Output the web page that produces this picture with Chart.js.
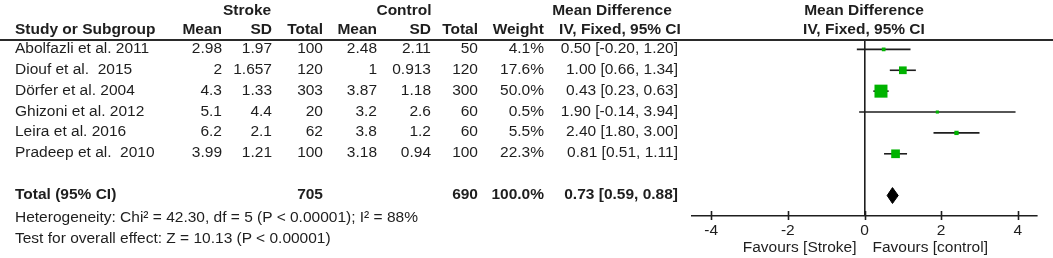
<!DOCTYPE html>
<html><head><meta charset="utf-8">
<script src="https://cdn.jsdelivr.net/npm/chart.js@4.4.1/dist/chart.umd.min.js"></script>
<style>
html,body{margin:0;padding:0;background:#fff;}
#wrap{position:relative;width:1053px;height:258px;overflow:hidden;font-family:"Liberation Sans",Arial,sans-serif;font-size:15.5px;color:#1e1e1e;}
#c{position:absolute;left:0;top:0;}
.t{position:absolute;white-space:pre;line-height:16px;height:16px;}
.b{font-weight:bold;}
#rule{position:absolute;left:0;top:39px;width:1053px;height:2px;background:#2a2a2a;}
</style></head><body>
<div id="wrap"><canvas id="c" width="1053" height="258"></canvas><div id="rule"></div></div>
<script>
// ---- data ----
const studies = ['Abolfazli et al. 2011','Diouf et al.  2015','Dörfer et al. 2004','Ghizoni et al. 2012','Leira et al. 2016','Pradeep et al.  2010'];
const strokeMean = [2.98, 2, 4.3, 5.1, 6.2, 3.99];
const strokeSD = [1.97, 1.657, 1.33, 4.4, 2.1, 1.21];
const strokeTotal = [100, 120, 303, 20, 62, 100];
const controlMean = [2.48, 1, 3.87, 3.2, 3.8, 3.18];
const controlSD = [2.11, 0.913, 1.18, 2.6, 1.2, 0.94];
const controlTotal = [50, 120, 300, 60, 60, 100];
const weights = [4.1, 17.6, 50.0, 0.5, 5.5, 22.3];
const md = [0.50, 1.00, 0.43, 1.90, 2.40, 0.81];
const ciLow = [-0.20, 0.66, 0.23, -0.14, 1.80, 0.51];
const ciHigh = [1.20, 1.34, 0.63, 3.94, 3.00, 1.11];
const totalStroke = 705;
const totalControl = 690;
const totalWeight = 100.0;
const totalMD = 0.73;
const totalLow = 0.59;
const totalHigh = 0.88;
const xTicks = [-4, -2, 0, 2, 4];
const heterogeneity = 'Heterogeneity: Chi² = 42.30, df = 5 (P < 0.00001); I² = 88%';
const overallTest = 'Test for overall effect: Z = 10.13 (P < 0.00001)';
const favourLeft = 'Favours [Stroke]';
const favourRight = 'Favours [control]';

// ---- chart ----
const rowOf = i => i + 1;
const totalRow = studies.length + 2;
const GREEN = '#00b300';
const INK = '#1e1e1e';

const datasets = [];
datasets.push({
  type: 'scatter', label: 'MD', order: 0,
  data: md.map((v, i) => ({x: v, y: rowOf(i)})),
  pointStyle: 'rect',
  pointRadius: weights.map(w => Math.max(2.2, 13 * Math.sqrt(w / 50) / Math.SQRT2)),
  pointBackgroundColor: GREEN, pointBorderWidth: 0, pointBorderColor: GREEN
});
studies.forEach((s, i) => {
  datasets.push({
    type: 'line', label: s, order: 2,
    data: [{x: ciLow[i], y: rowOf(i)}, {x: ciHigh[i], y: rowOf(i)}],
    borderColor: INK, borderWidth: 1.6, pointRadius: 0, fill: false, tension: 0
  });
});
const dh = 0.38;
datasets.push({
  type: 'line', label: 'Total', order: 1,
  data: [{x: totalLow, y: totalRow}, {x: totalMD, y: totalRow - dh}, {x: totalHigh, y: totalRow}, {x: totalMD, y: totalRow + dh}, {x: totalLow, y: totalRow}],
  borderColor: '#000', borderWidth: 1, backgroundColor: '#000', pointRadius: 0, fill: 'shape', tension: 0
});

const crossTicks = {
  id: 'crossTicks',
  afterDraw(chart) {
    const ctx = chart.ctx, xs = chart.scales.x, b = chart.chartArea.bottom;
    ctx.save();
    ctx.strokeStyle = INK; ctx.lineWidth = 1.6;
    xTicks.forEach(v => {
      const px = Math.round(xs.getPixelForValue(v)) + 0.5;
      ctx.beginPath(); ctx.moveTo(px, b - 5); ctx.lineTo(px, b + 4); ctx.stroke();
    });
    ctx.restore();
  }
};

const chart = new Chart(document.getElementById('c'), {
  type: 'scatter',
  data: {datasets},
  options: {
    responsive: false, animation: false, devicePixelRatio: 1,
    layout: {padding: {left: 692, right: 16, top: 40, bottom: 0}},
    plugins: {legend: {display: false}, tooltip: {enabled: false}},
    scales: {
      x: {
        type: 'linear', min: -4.5, max: 4.5,
        afterBuildTicks: s => { s.ticks = xTicks.map(v => ({value: v})); },
        afterFit: s => { s.height = 42; },
        border: {display: true, color: INK, width: 1.6},
        grid: {drawTicks: false, drawOnChartArea: true,
               color: c => (c.tick && c.tick.value === 0) ? INK : 'rgba(0,0,0,0)', lineWidth: 1.6},
        ticks: {padding: 5, color: INK, font: {family: '"Liberation Sans", Arial, sans-serif', size: 15.5},
                callback: v => String(v), maxRotation: 0, autoSkip: false}
      },
      y: {type: 'linear', display: false, reverse: true, min: 0.55, max: 8.98}
    }
  },
  plugins: [crossTicks]
});

// ---- table text (HTML) ----
const wrap = document.getElementById('wrap');
function put(text, x, yc, align, bold) {
  const d = document.createElement('div');
  d.className = 't' + (bold ? ' b' : '');
  d.textContent = text;
  d.style.top = (yc - 8) + 'px';
  if (align === 'left') d.style.left = x + 'px';
  else if (align === 'right') d.style.right = (1053 - x) + 'px';
  else { d.style.left = (x - 200) + 'px'; d.style.width = '400px'; d.style.textAlign = 'center'; }
  wrap.appendChild(d);
}
const ys = chart.scales.y;
const cols = {sMean: 222, sSD: 272, sTot: 323, cMean: 377, cSD: 431, cTot: 478, w: 544, ci: 678};
// headers
put('Stroke', 247, 10, 'center', true);
put('Control', 404, 10, 'center', true);
put('Mean Difference', 612, 10, 'center', true);
put('IV, Fixed, 95% CI', 620, 29, 'center', true);
put('Mean Difference', 864, 10, 'center', true);
put('IV, Fixed, 95% CI', 864, 29, 'center', true);
put('Study or Subgroup', 15, 29, 'left', true);
put('Mean', cols.sMean, 29, 'right', true);
put('SD', cols.sSD, 29, 'right', true);
put('Total', cols.sTot, 29, 'right', true);
put('Mean', cols.cMean, 29, 'right', true);
put('SD', cols.cSD, 29, 'right', true);
put('Total', cols.cTot, 29, 'right', true);
put('Weight', cols.w, 29, 'right', true);
const f2 = v => v.toFixed(2);
studies.forEach((s, i) => {
  const y = ys.getPixelForValue(rowOf(i)) - 1.5;
  put(s, 15, y, 'left');
  put(String(strokeMean[i]), cols.sMean, y, 'right');
  put(String(strokeSD[i]), cols.sSD, y, 'right');
  put(String(strokeTotal[i]), cols.sTot, y, 'right');
  put(String(controlMean[i]), cols.cMean, y, 'right');
  put(String(controlSD[i]), cols.cSD, y, 'right');
  put(String(controlTotal[i]), cols.cTot, y, 'right');
  put(weights[i].toFixed(1) + '%', cols.w, y, 'right');
  put(f2(md[i]) + ' [' + f2(ciLow[i]) + ', ' + f2(ciHigh[i]) + ']', cols.ci, y, 'right');
});
const yt = ys.getPixelForValue(totalRow) - 1.5;
put('Total (95% CI)', 15, yt, 'left', true);
put(String(totalStroke), cols.sTot, yt, 'right', true);
put(String(totalControl), cols.cTot, yt, 'right', true);
put(totalWeight.toFixed(1) + '%', cols.w, yt, 'right', true);
put(f2(totalMD) + ' [' + f2(totalLow) + ', ' + f2(totalHigh) + ']', cols.ci, yt, 'right', true);
put(heterogeneity, 15, 217, 'left');
put(overallTest, 15, 238, 'left');
const xs = chart.scales.x;
put(favourLeft, xs.getPixelForValue(0) - 8, 247, 'right');
put(favourRight, xs.getPixelForValue(0) + 8, 247, 'left');
</script>
</body></html>
